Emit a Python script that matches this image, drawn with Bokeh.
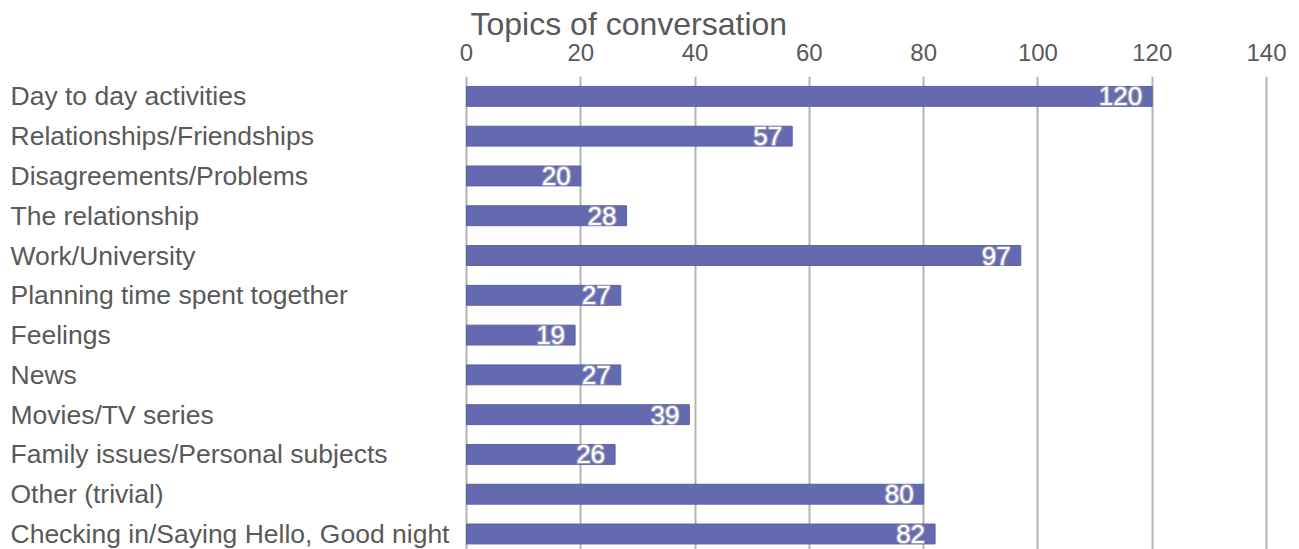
from bokeh.plotting import figure
from bokeh.models import Range1d, FixedTicker, ColumnDataSource, Title
from bokeh.core.properties import value
from bokeh.embed import file_html
from bokeh.resources import INLINE

categories = [
    "Day to day activities",
    "Relationships/Friendships",
    "Disagreements/Problems",
    "The relationship",
    "Work/University",
    "Planning time spent together",
    "Feelings",
    "News",
    "Movies/TV series",
    "Family issues/Personal subjects",
    "Other (trivial)",
    "Checking in/Saying Hello, Good night",
]
counts = [120, 57, 20, 28, 97, 27, 19, 27, 39, 26, 80, 82]
x_ticks = [0, 20, 40, 60, 80, 100, 120, 140]
title_text = "Topics of conversation"

W, H = 1299, 549
FONT = "Liberation Sans"
TEXT = "#595959"
BAR = "#636ab0"

# pixel layout of the frame (full width); 0 at px 466, 140 at px 1266
px_per_unit = 800 / 140
x_start = -466 / px_per_unit
x_end = 140 + (W - 1266) / px_per_unit

idx = list(range(len(categories)))
src = ColumnDataSource(dict(
    y=idx,
    cat=categories,
    cnt=counts,
    lbl=[str(c) for c in counts],
    lx=[x_start + 10 / px_per_unit] * len(categories),
))

p = figure(width=W, height=H, x_axis_location="above", title=None,
           x_range=Range1d(x_start, x_end), y_range=Range1d(11.39, -0.5),
           output_backend="svg", toolbar_location=None,
           min_border=0, min_border_left=0, min_border_right=0,
           min_border_top=0, min_border_bottom=0)
p.outline_line_color = None
p.background_fill_color = "white"
p.border_fill_color = "white"

xa = p.xaxis[0]
xa.ticker = FixedTicker(ticks=x_ticks)
xa.axis_line_color = None
xa.major_tick_line_color = None
xa.minor_tick_line_color = None
xa.major_label_text_font = FONT
xa.major_label_text_font_size = "24px"
xa.major_label_text_color = TEXT
xa.major_label_standoff = 10

main_title = Title(text=title_text, text_font=FONT, text_font_size="32px",
                   text_font_style="normal", text_color=TEXT, align="left",
                   offset=470, standoff=-3)
p.add_layout(main_title, "above")
spacer = Title(text=" ", text_font_size="3px", standoff=0)
p.add_layout(spacer, "above")

p.yaxis.visible = False
p.ygrid.grid_line_color = None
p.xgrid.ticker = FixedTicker(ticks=x_ticks)
p.xgrid.grid_line_color = "#b3b3b3"
p.xgrid.grid_line_width = 2

p.hbar(y="y", right="cnt", left=0, height=0.5, source=src,
       fill_color=BAR, line_color="#5a61a6", line_width=1)

# category labels, left aligned at the page edge
p.text(x="lx", y="y", text="cat", source=src, text_align="left",
       text_baseline="middle", text_font=value(FONT),
       text_font_size="26.5px", text_color=TEXT)

# value labels: white with grey outline
for dx, dy in [(-1, 0), (1, 0), (0, -1), (0, 1), (-1, -1), (1, 1), (-1, 1), (1, -1)]:
    p.text(x="cnt", y="y", text="lbl", source=src, text_align="right",
           text_baseline="middle", x_offset=-10 + dx, y_offset=dy,
           text_font=value(FONT), text_font_size="26px", text_color="#9a9ab8")
p.text(x="cnt", y="y", text="lbl", source=src, text_align="right",
       text_baseline="middle", x_offset=-10, y_offset=0,
       text_font=value(FONT), text_font_size="26px", text_color="white")

open("out.html", "w").write(file_html(p, INLINE))
